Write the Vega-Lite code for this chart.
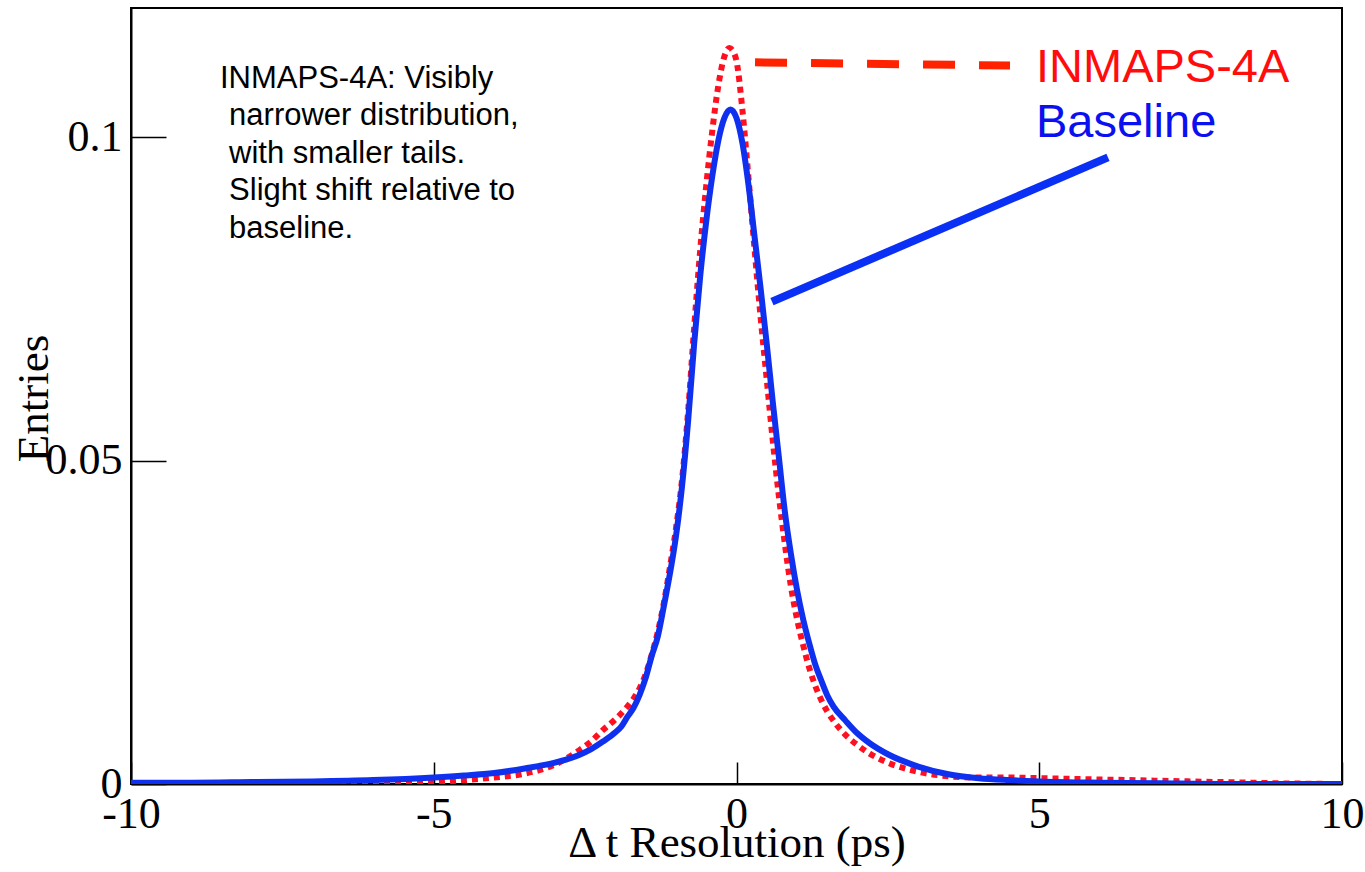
{
  "$schema": "https://vega.github.io/schema/vega-lite/v6.json",
  "width": 1211,
  "height": 776,
  "autosize": {"type": "none"},
  "padding": {"left": 131, "top": 8, "right": 23, "bottom": 88},
  "background": "white",
  "config": {
    "view": {"stroke": "#000", "strokeWidth": 2},
    "axis": {"grid": false, "zindex": 1}
  },
  "datasets": {
    "inmaps": [
      {"x": -10, "y": 0.0}, {"x": -8, "y": 0.0001}, {"x": -7, "y": 0.0001}, {"x": -6, "y": 0.0002},
      {"x": -5, "y": 0.0003}, {"x": -4.5, "y": 0.0006}, {"x": -4, "y": 0.001}, {"x": -3.5, "y": 0.0016},
      {"x": -3, "y": 0.003}, {"x": -2.6, "y": 0.0052}, {"x": -2.4, "y": 0.0066}, {"x": -2.2, "y": 0.0084},
      {"x": -2.0, "y": 0.01}, {"x": -1.8, "y": 0.012}, {"x": -1.7, "y": 0.0132}, {"x": -1.6, "y": 0.0148},
      {"x": -1.5, "y": 0.017}, {"x": -1.4, "y": 0.02}, {"x": -1.3, "y": 0.0235}, {"x": -1.2, "y": 0.028},
      {"x": -1.1, "y": 0.0335}, {"x": -1.0, "y": 0.0395}, {"x": -0.9, "y": 0.047}, {"x": -0.8, "y": 0.0575},
      {"x": -0.7, "y": 0.0705}, {"x": -0.6, "y": 0.0825}, {"x": -0.5, "y": 0.0925}, {"x": -0.4, "y": 0.101},
      {"x": -0.3, "y": 0.108}, {"x": -0.2, "y": 0.1125}, {"x": -0.12, "y": 0.1138}, {"x": -0.05, "y": 0.1132},
      {"x": 0.0, "y": 0.1118}, {"x": 0.1, "y": 0.104}, {"x": 0.2, "y": 0.0935}, {"x": 0.3, "y": 0.0825},
      {"x": 0.4, "y": 0.072}, {"x": 0.5, "y": 0.0625}, {"x": 0.6, "y": 0.053}, {"x": 0.7, "y": 0.0445},
      {"x": 0.8, "y": 0.037}, {"x": 0.9, "y": 0.0305}, {"x": 1.0, "y": 0.0255}, {"x": 1.1, "y": 0.0215},
      {"x": 1.2, "y": 0.018}, {"x": 1.3, "y": 0.0152}, {"x": 1.4, "y": 0.013}, {"x": 1.5, "y": 0.0112},
      {"x": 1.6, "y": 0.0098}, {"x": 1.8, "y": 0.0076}, {"x": 2.0, "y": 0.006}, {"x": 2.2, "y": 0.0047},
      {"x": 2.5, "y": 0.0033}, {"x": 3.0, "y": 0.0019}, {"x": 3.5, "y": 0.0012}, {"x": 4.0, "y": 0.001},
      {"x": 4.5, "y": 0.001}, {"x": 5.0, "y": 0.0009}, {"x": 6.0, "y": 0.0007}, {"x": 7.0, "y": 0.0005},
      {"x": 8.0, "y": 0.0003}, {"x": 9.0, "y": 0.0001}, {"x": 10, "y": 0.0}
    ],
    "baseline": [
      {"x": -10, "y": 0.0002}, {"x": -9, "y": 0.0002}, {"x": -8, "y": 0.0003}, {"x": -7, "y": 0.0004},
      {"x": -6, "y": 0.0006}, {"x": -5, "y": 0.001}, {"x": -4.5, "y": 0.0013}, {"x": -4, "y": 0.0017},
      {"x": -3.5, "y": 0.0024}, {"x": -3, "y": 0.0033}, {"x": -2.6, "y": 0.0045}, {"x": -2.4, "y": 0.0054},
      {"x": -2.2, "y": 0.0066}, {"x": -2.0, "y": 0.008}, {"x": -1.9, "y": 0.0089}, {"x": -1.8, "y": 0.0104},
      {"x": -1.7, "y": 0.0118}, {"x": -1.6, "y": 0.0138}, {"x": -1.5, "y": 0.0164}, {"x": -1.4, "y": 0.0198},
      {"x": -1.3, "y": 0.0228}, {"x": -1.2, "y": 0.0275}, {"x": -1.1, "y": 0.0325}, {"x": -1.0, "y": 0.0383},
      {"x": -0.9, "y": 0.046}, {"x": -0.8, "y": 0.056}, {"x": -0.7, "y": 0.068}, {"x": -0.6, "y": 0.0785},
      {"x": -0.5, "y": 0.087}, {"x": -0.4, "y": 0.094}, {"x": -0.3, "y": 0.0995}, {"x": -0.2, "y": 0.103},
      {"x": -0.1, "y": 0.1043}, {"x": 0.0, "y": 0.103}, {"x": 0.1, "y": 0.099}, {"x": 0.2, "y": 0.0925},
      {"x": 0.3, "y": 0.0845}, {"x": 0.4, "y": 0.0765}, {"x": 0.5, "y": 0.068}, {"x": 0.6, "y": 0.059},
      {"x": 0.7, "y": 0.0505}, {"x": 0.8, "y": 0.042}, {"x": 0.9, "y": 0.0355}, {"x": 1.0, "y": 0.03},
      {"x": 1.1, "y": 0.0255}, {"x": 1.2, "y": 0.0218}, {"x": 1.3, "y": 0.0185}, {"x": 1.4, "y": 0.016},
      {"x": 1.5, "y": 0.0137}, {"x": 1.6, "y": 0.012}, {"x": 1.8, "y": 0.0098}, {"x": 2.0, "y": 0.0078},
      {"x": 2.2, "y": 0.0063}, {"x": 2.5, "y": 0.0046}, {"x": 3.0, "y": 0.0027}, {"x": 3.5, "y": 0.0015},
      {"x": 4.0, "y": 0.0009}, {"x": 4.5, "y": 0.0006}, {"x": 5.0, "y": 0.0004}, {"x": 6.0, "y": 0.0002},
      {"x": 7.0, "y": 0.0001}, {"x": 8.0, "y": 0.0}, {"x": 10, "y": 0.0}
    ]
  },
  "layer": [
    {
      "data": {"name": "inmaps"},
      "mark": {"type": "line", "color": "#ff1020", "strokeWidth": 6, "strokeDash": [6, 5], "interpolate": "monotone", "clip": true},
      "encoding": {
        "x": {"field": "x", "type": "quantitative",
          "scale": {"domain": [-10, 10], "nice": false, "zero": false},
          "axis": {"title": "Δ t Resolution (ps)", "values": [-10, -5, 0, 5, 10], "labelExpr": "'' + datum.value",
            "tickSize": -22, "tickColor": "#000", "tickWidth": 1.5, "domainColor": "#000", "domainWidth": 2,
            "labelFont": "Liberation Serif", "labelFontSize": 44, "labelColor": "#000", "labelPadding": 30,
            "labelFlush": false, "labelOverlap": false, "labelBound": false,
            "titleFont": "Liberation Serif", "titleFontSize": 45, "titleFontWeight": "normal", "titleColor": "#000",
            "titleBaseline": "alphabetic", "titleY": 72}},
        "y": {"field": "y", "type": "quantitative",
          "scale": {"domain": [0, 0.12], "nice": false},
          "axis": {"title": "Entries", "values": [0, 0.05, 0.1], "labelExpr": "'' + datum.value",
            "tickSize": -35, "tickColor": "#000", "tickWidth": 1.5, "domainColor": "#000", "domainWidth": 2,
            "labelFont": "Liberation Serif", "labelFontSize": 44, "labelColor": "#000", "labelPadding": 44,
            "labelFlush": false, "labelOverlap": false, "labelBound": false,
            "titleFont": "Liberation Serif", "titleFontSize": 45, "titleFontWeight": "normal", "titleColor": "#000",
            "titleBaseline": "alphabetic", "titleX": -84, "titleY": 390, "titleAngle": 270}}
      }
    },
    {
      "data": {"name": "baseline"},
      "mark": {"type": "line", "color": "#1030f0", "strokeWidth": 6, "interpolate": "monotone", "clip": true},
      "encoding": {
        "x": {"field": "x", "type": "quantitative", "title": "Δ t Resolution (ps)"},
        "y": {"field": "y", "type": "quantitative", "title": "Entries"}
      }
    },
    {
      "data": {"values": [{}]},
      "mark": {"type": "rule", "color": "#ff2200", "strokeWidth": 8, "strokeDash": [32, 24]},
      "encoding": {
        "x": {"datum": 0.306, "type": "quantitative"},
        "y": {"datum": 0.1116, "type": "quantitative"},
        "x2": {"datum": 4.517},
        "y2": {"datum": 0.1111}
      }
    },
    {
      "data": {"values": [{}]},
      "mark": {"type": "rule", "color": "#0a30f5", "strokeWidth": 8},
      "encoding": {
        "x": {"datum": 0.586, "type": "quantitative"},
        "y": {"datum": 0.0746, "type": "quantitative"},
        "x2": {"datum": 6.135},
        "y2": {"datum": 0.0969}
      }
    },
    {
      "data": {"values": [{}]},
      "mark": {"type": "text", "text": "INMAPS-4A", "font": "Liberation Sans", "fontSize": 47, "color": "#ff0d0d", "align": "left", "baseline": "alphabetic"},
      "encoding": {
        "x": {"datum": 4.946, "type": "quantitative"},
        "y": {"datum": 0.1086, "type": "quantitative"}
      }
    },
    {
      "data": {"values": [{}]},
      "mark": {"type": "text", "text": "Baseline", "font": "Liberation Sans", "fontSize": 47, "color": "#0a10f0", "align": "left", "baseline": "alphabetic"},
      "encoding": {
        "x": {"datum": 4.946, "type": "quantitative"},
        "y": {"datum": 0.1, "type": "quantitative"}
      }
    },
    {
      "data": {"values": [{}]},
      "mark": {"type": "text", "text": "INMAPS-4A: Visibly",
        "font": "Liberation Sans", "fontSize": 31, "color": "#000", "align": "left", "baseline": "alphabetic"},
      "encoding": {
        "x": {"datum": -8.53, "type": "quantitative"},
        "y": {"datum": 0.1077, "type": "quantitative"}
      }
    },
    {
      "data": {"values": [{}]},
      "mark": {"type": "text", "text": ["narrower distribution,", "with smaller tails.", "Slight shift relative to", "baseline."],
        "font": "Liberation Sans", "fontSize": 31, "lineHeight": 37.5, "color": "#000", "align": "left", "baseline": "alphabetic"},
      "encoding": {
        "x": {"datum": -8.38, "type": "quantitative"},
        "y": {"datum": 0.1019, "type": "quantitative"}
      }
    }
  ]
}
